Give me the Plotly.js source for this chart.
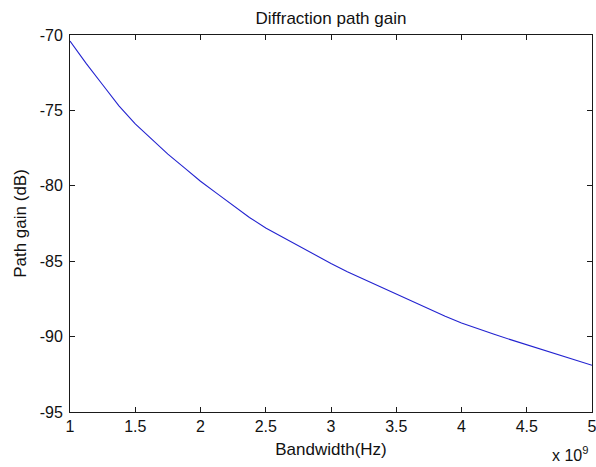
<!DOCTYPE html>
<html>
<head>
<meta charset="utf-8">
<script src="https://cdn.plot.ly/plotly-3.0.1.min.js"></script>
<style>
  html, body { margin: 0; padding: 0; background: #ffffff; }
  #chart { width: 596px; height: 467px; }
</style>
</head>
<body>
<div id="chart"></div>
<script>
// Bandwidth in units of 1e9 Hz (scale shown as "x 10^9" below the axis)
const bandwidth = [
  1.0, 1.125, 1.25, 1.375, 1.5, 1.625, 1.75, 1.875,
  2.0, 2.125, 2.25, 2.375, 2.5, 2.625, 2.75, 2.875,
  3.0, 3.125, 3.25, 3.375, 3.5, 3.625, 3.75, 3.875,
  4.0, 4.125, 4.25, 4.375, 4.5, 4.625, 4.75, 4.875, 5.0
];
// Diffraction path gain in dB
const pathGainDb = [
  -70.4, -71.9, -73.3, -74.7, -75.9, -76.9, -77.9, -78.8,
  -79.7, -80.5, -81.3, -82.1, -82.8, -83.4, -83.95, -84.6,
  -85.15, -85.7, -86.2, -86.7, -87.2, -87.7, -88.2, -88.65,
  -89.1, -89.5, -89.85, -90.2, -90.55, -90.9, -91.2, -91.55, -91.9
];

const xTicks = [1, 1.5, 2, 2.5, 3, 3.5, 4, 4.5, 5];
const xTickText = ['1', '1.5', '2', '2.5', '3', '3.5', '4', '4.5', '5'];
const yTicks = [-95, -90, -85, -80, -75, -70];
const yTickText = ['-95', '-90', '-85', '-80', '-75', '-70'];

const font = 'Liberation Sans, Arial, sans-serif';

const trace = {
  x: bandwidth,
  y: pathGainDb,
  type: 'scatter',
  mode: 'lines',
  line: { color: '#2323d0', width: 1.1 },
  hoverinfo: 'skip'
};

const axisCommon = {
  showgrid: false,
  zeroline: false,
  showline: true,
  linecolor: '#1a1a1a',
  linewidth: 1,
  mirror: 'ticks',
  ticks: 'inside',
  ticklen: 5,
  tickwidth: 1,
  tickcolor: '#1a1a1a',
  tickfont: { family: font, size: 16, color: '#111111' },
  tickmode: 'array',
  ticklabeloverflow: 'allow'
};

const layout = {
  width: 596,
  height: 467,
  margin: { l: 70, r: 4, t: 35, b: 55 },
  paper_bgcolor: '#ffffff',
  plot_bgcolor: '#ffffff',
  showlegend: false,
  title: {
    text: 'Diffraction path gain',
    font: { family: font, size: 17, color: '#111111' },
    x: 0.5 + (70 - 4) / 2 / 596,
    xanchor: 'center',
    y: 1 - 18 / 467,
    yanchor: 'middle'
  },
  xaxis: Object.assign({}, axisCommon, {
    range: [1, 5],
    tickvals: xTicks,
    ticktext: xTickText,
    title: { text: 'Bandwidth(Hz)', font: { family: font, size: 17, color: '#111111' }, standoff: 8 }
  }),
  yaxis: Object.assign({}, axisCommon, {
    range: [-95, -70],
    tickvals: yTicks,
    ticktext: yTickText,
    ticklabelstandoff: 3,
    title: { text: 'Path gain (dB)', font: { family: font, size: 17, color: '#111111' }, standoff: 8 }
  }),
  annotations: [{
    xref: 'paper', yref: 'paper',
    x: 1.0, y: 0,
    xanchor: 'right', yanchor: 'top',
    xshift: -2,
    yshift: -30,
    showarrow: false,
    text: 'x 10<sup>9</sup>',
    font: { family: font, size: 16, color: '#111111' }
  }]
};

Plotly.newPlot('chart', [trace], layout, { displayModeBar: false, staticPlot: true });
</script>
</body>
</html>
